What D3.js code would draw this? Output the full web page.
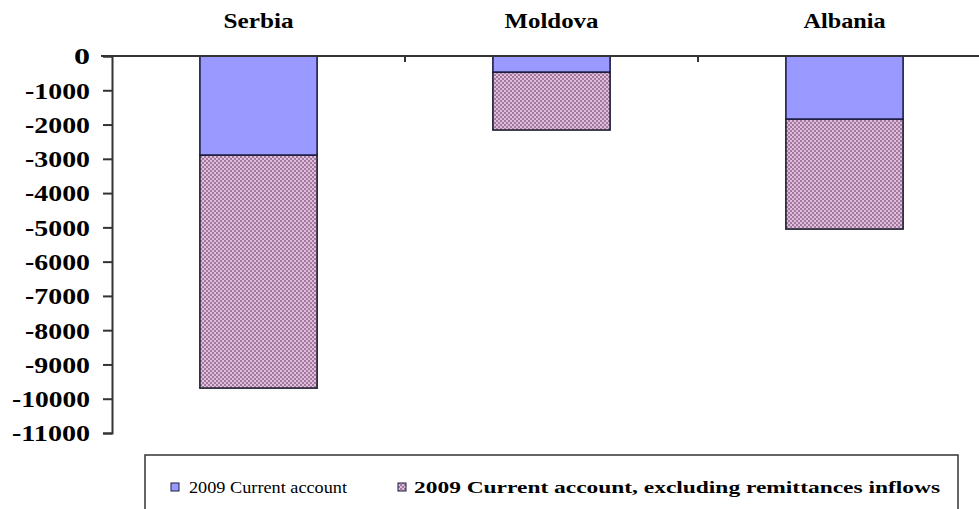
<!DOCTYPE html>
<html><head><meta charset="utf-8">
<script src="https://cdn.jsdelivr.net/npm/d3@7/dist/d3.min.js"></script>
<style>
html,body{margin:0;padding:0;background:#fff;}
text{font-family:"Liberation Serif","Times New Roman",serif;}
</style></head>
<body>
<svg id="chart" width="979" height="509"></svg>
<script>
const countries = ["Serbia", "Moldova", "Albania"];
const currentAccount = [-2890, -470, -1840];
const currentAccountExRemit = [-9690, -2160, -5050];
const yTicks = [0, -1000, -2000, -3000, -4000, -5000, -6000, -7000, -8000, -9000, -10000, -11000];
const seriesNames = ["2009 Current account", "2009 Current account, excluding remittances inflows"];

const svg = d3.select("#chart");
const defs = svg.append("defs");
const pat = defs.append("pattern").attr("id","hatch").attr("patternUnits","userSpaceOnUse")
  .attr("width",4).attr("height",4);
pat.append("rect").attr("width",4).attr("height",4).attr("fill","#e2bcdc");
pat.append("rect").attr("x",0).attr("y",0).attr("width",2).attr("height",2).attr("fill","#a07a9c");
pat.append("rect").attr("x",2).attr("y",2).attr("width",2).attr("height",2).attr("fill","#a07a9c");

const x = d3.scaleBand().domain(countries).range([112, 991]).paddingInner(0.6).paddingOuter(0.3);
const y = d3.scaleLinear().domain([-11000, 0]).range([433, 56]);

const g = svg.append("g");
countries.forEach((c, i) => {
  g.append("rect")
    .attr("x", x(c)).attr("width", x.bandwidth())
    .attr("y", y(currentAccount[i])).attr("height", y(currentAccountExRemit[i]) - y(currentAccount[i]))
    .attr("fill", "url(#hatch)").attr("stroke", "#1c1c2e").attr("stroke-width", 1.6);
  g.append("rect")
    .attr("x", x(c)).attr("width", x.bandwidth())
    .attr("y", y(0)).attr("height", y(currentAccount[i]) - y(0))
    .attr("fill", "#9999ff").attr("stroke", "#1c1c40").attr("stroke-width", 1.6);
});

// y axis
const yAxis = d3.axisLeft(y).tickValues(yTicks).tickSize(9).tickPadding(13).tickFormat(d => String(d));
const ya = svg.append("g").attr("transform","translate(112,0)").call(yAxis);
ya.select(".domain").attr("stroke","#333").attr("stroke-width",2);
ya.selectAll(".tick line").attr("stroke","#333").attr("stroke-width",2);
ya.selectAll(".tick text").attr("font-weight","bold")
  .attr("font-size", 23).attr("fill","#000").attr("dy","0.34em")
  .each(function(d){ const s = String(d); d3.select(this).attr("textLength", s.length === 1 ? 16 : s.length * 13).attr("lengthAdjust","spacingAndGlyphs"); });

// zero line with ticks between categories
svg.append("line").attr("x1",101).attr("x2",979).attr("y1",y(0)).attr("y2",y(0))
  .attr("stroke","#333").attr("stroke-width",2);
countries.slice(1).forEach(c => {
  const xp = x(c) - (x.step()-x.bandwidth())/2;
  svg.append("line").attr("x1", xp).attr("x2", xp)
    .attr("y1", y(0)).attr("y2", y(0)+6).attr("stroke","#333").attr("stroke-width",2);
});

// country titles
const titleW = {Serbia: 70, Moldova: 94, Albania: 82};
countries.forEach(c => {
  svg.append("text").attr("x", x(c) + x.bandwidth()/2).attr("y", 28)
    .attr("text-anchor","middle").attr("font-weight","bold").attr("font-size", 22)
    .attr("textLength", titleW[c]).attr("lengthAdjust","spacingAndGlyphs").text(c);
});

// legend
svg.append("rect").attr("x",145).attr("y",455).attr("width",813).attr("height",70)
  .attr("fill","#fff").attr("stroke","#333").attr("stroke-width",1.5);
const leg = [
  {mx:171, tx:189, tw:158, fill:"#9999ff", bold:false},
  {mx:398, tx:414, tw:526, fill:"url(#hatch)", bold:true}
];
leg.forEach((l, i) => {
  svg.append("rect").attr("x", l.mx).attr("y", 483).attr("width", 8).attr("height", 8)
    .attr("fill", l.fill).attr("stroke","#1c1c40").attr("stroke-width",1);
  svg.append("text").attr("x", l.tx).attr("y", 493).attr("font-size", 16)
    .attr("font-weight", l.bold ? "bold" : "normal")
    .attr("textLength", l.tw).attr("lengthAdjust","spacingAndGlyphs").text(seriesNames[i]);
});
</script>
</body></html>
